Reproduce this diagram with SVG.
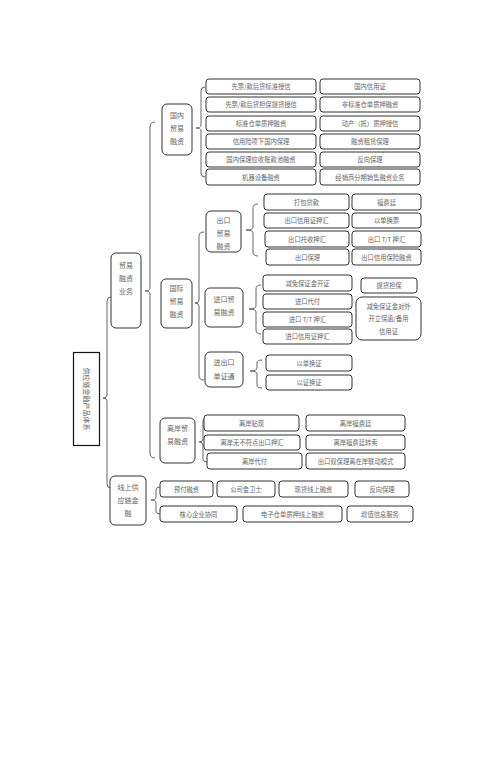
<svg xmlns="http://www.w3.org/2000/svg" width="502" height="767" viewBox="0 0 502 767">
<style>
.b{fill:#fff;stroke:#333;stroke-width:1}
.t{font-family:"Noto Sans CJK SC","Liberation Serif",serif;font-size:6.3px;fill:#666;text-anchor:middle;dominant-baseline:central}
.n{font-size:7px}
.br{fill:none;stroke:#666;stroke-width:1}
</style>
<rect width="502" height="767" fill="#fff"/>
<g id="connectors">
<path class="br" d="M111 297 Q107 297 107 301 L107 395 Q107 398 103 398 Q107 398 107 401 L107 484 Q107 488 111 488"/>
<path class="br" d="M155 122 Q150 122 150 127 L150 288 Q150 291 145 291 Q150 291 150 294 L150 453 Q150 458 155 458"/>
<path class="br" d="M205 87 Q201 87 201 91 L201 125 Q201 128 196 128 Q201 128 201 131 L201 173 Q201 177 205 177"/>
<path class="br" d="M204 232 Q199 232 199 236 L199 300 Q199 303 195 303 Q199 303 199 306 L199 376 Q199 380 204 380"/>
<path class="br" d="M258 204 Q253 204 253 208 L253 227 Q253 230 246 230 Q253 230 253 233 L253 252 Q253 256 258 256"/>
<path class="br" d="M261 285 Q256 285 256 289 L256 306 Q256 309 249 309 Q256 309 256 312 L256 330 Q256 334 261 334"/>
<path class="br" d="M262 360 Q257 360 257 363 L257 368 Q257 371 250 371 Q257 371 257 374 L257 385 Q257 388 262 388"/>
<path class="br" d="M207 418 Q203 418 203 421 L203 439 Q203 442 199 442 Q203 442 203 445 L203 459 Q203 462 207 462"/>
<path class="br" d="M160 487 Q156 487 156 490 L156 497 Q156 500 151 500 Q156 500 156 503 L156 511 Q156 514 160 514"/>
</g>
<g id="root"><rect x="73.5" y="352.5" width="26" height="93" fill="#fff" stroke="#111" stroke-width="1.2"/><text class="t n" transform="translate(87,399) rotate(90)">供应链金融产品体系</text></g>
<g id="maoyi"><rect class="b" x="111" y="253" width="30" height="75" rx="5"/><text class="t n" x="126" y="265">贸易</text><text class="t n" x="126" y="278">融资</text><text class="t n" x="126" y="291">业务</text></g>
<g id="xianshang"><rect class="b" x="110" y="476" width="36" height="49" rx="5"/><text class="t n" x="128" y="487">线上供</text><text class="t n" x="128" y="500">应链金</text><text class="t n" x="128" y="513">融</text></g>
<g id="guonei"><rect class="b" x="162" y="104" width="30" height="51" rx="5"/><text class="t n" x="177" y="115">国内</text><text class="t n" x="177" y="128">贸易</text><text class="t n" x="177" y="141">融资</text></g>
<g id="guoji"><rect class="b" x="161" y="279" width="31" height="49" rx="5"/><text class="t n" x="176.5" y="288">国际</text><text class="t n" x="176.5" y="301">贸易</text><text class="t n" x="176.5" y="314">融资</text></g>
<g id="lian"><rect class="b" x="160" y="418" width="35" height="45" rx="5"/><text class="t n" x="177.5" y="428">离岸贸</text><text class="t n" x="177.5" y="441">易融资</text></g>
<g id="chukou"><rect class="b" x="206" y="211" width="35" height="41" rx="5"/><text class="t n" x="223.5" y="220">出口</text><text class="t n" x="223.5" y="233">贸易</text><text class="t n" x="223.5" y="246">融资</text></g>
<g id="jinkou"><rect class="b" x="205" y="288" width="38" height="39" rx="5"/><text class="t n" x="224" y="299">进口贸</text><text class="t n" x="224" y="312">易融资</text></g>
<g id="danzheng"><rect class="b" x="205" y="352" width="38" height="35" rx="5"/><text class="t n" x="224" y="362">进出口</text><text class="t n" x="224" y="376">单证通</text></g>
<g id="gn1"><rect class="b" x="206" y="79" width="110" height="15" rx="3"/><text class="t" x="261" y="86.5">先票/款后货标准授信</text></g>
<g id="gn2"><rect class="b" x="206" y="97" width="110" height="15" rx="3"/><text class="t" x="261" y="104.5">先票/款后货担保提货授信</text></g>
<g id="gn3"><rect class="b" x="206" y="116" width="110" height="15" rx="3"/><text class="t" x="261" y="123.5">标准仓单质押融资</text></g>
<g id="gn4"><rect class="b" x="206" y="134" width="110" height="15" rx="3"/><text class="t" x="261" y="141.5">信用险项下国内保理</text></g>
<g id="gn5"><rect class="b" x="206" y="152" width="110" height="15" rx="3"/><text class="t" x="261" y="159.5">国内保理应收账款池融资</text></g>
<g id="gn6"><rect class="b" x="206" y="169" width="110" height="16" rx="3"/><text class="t" x="261" y="177">机器设备融资</text></g>
<g id="gn7"><rect class="b" x="320" y="79" width="100" height="15" rx="3"/><text class="t" x="370" y="86.5">国内信用证</text></g>
<g id="gn8"><rect class="b" x="320" y="97" width="100" height="15" rx="3"/><text class="t" x="370" y="104.5">非标准仓单质押融资</text></g>
<g id="gn9"><rect class="b" x="320" y="116" width="100" height="15" rx="3"/><text class="t" x="370" y="123.5">动产（抵）质押授信</text></g>
<g id="gn10"><rect class="b" x="320" y="134" width="100" height="15" rx="3"/><text class="t" x="370" y="141.5">融资租赁保理</text></g>
<g id="gn11"><rect class="b" x="320" y="152" width="100" height="15" rx="3"/><text class="t" x="370" y="159.5">反向保理</text></g>
<g id="gn12"><rect class="b" x="320" y="169" width="100" height="16" rx="3"/><text class="t" x="370" y="177">经销商分期销售融资业务</text></g>
<g id="ck1"><rect class="b" x="264" y="194" width="85" height="16" rx="3"/><text class="t" x="306.5" y="202">打包贷款</text></g>
<g id="ck2"><rect class="b" x="264" y="213" width="85" height="15" rx="3"/><text class="t" x="306.5" y="220.5">出口信用证押汇</text></g>
<g id="ck3"><rect class="b" x="265" y="231" width="84" height="16" rx="3"/><text class="t" x="307" y="239">出口托收押汇</text></g>
<g id="ck4"><rect class="b" x="266" y="249" width="83" height="16" rx="3"/><text class="t" x="307.5" y="257">出口保理</text></g>
<g id="ck5"><rect class="b" x="352" y="194" width="69" height="16" rx="3"/><text class="t" x="386.5" y="202">福费廷</text></g>
<g id="ck6"><rect class="b" x="352" y="213" width="69" height="15" rx="3"/><text class="t" x="386.5" y="220.5">以单换票</text></g>
<g id="ck7"><rect class="b" x="352" y="231" width="69" height="16" rx="3"/><text class="t" x="386.5" y="239">出口 T/T 押汇</text></g>
<g id="ck8"><rect class="b" x="352" y="249" width="69" height="16" rx="3"/><text class="t" x="386.5" y="257">出口信用保险融资</text></g>
<g id="jk1"><rect class="b" x="263" y="275" width="89" height="16" rx="3"/><text class="t" x="307.5" y="283">减免保证金开证</text></g>
<g id="jk2"><rect class="b" x="263" y="294" width="89" height="15" rx="3"/><text class="t" x="307.5" y="301.5">进口代付</text></g>
<g id="jk3"><rect class="b" x="263" y="312" width="89" height="15" rx="3"/><text class="t" x="307.5" y="319.5">进口 T/T 押汇</text></g>
<g id="jk4"><rect class="b" x="263" y="329" width="89" height="15" rx="3"/><text class="t" x="307.5" y="336.5">进口信用证押汇</text></g>
<g id="jk5"><rect class="b" x="361" y="278" width="56" height="15" rx="3"/><text class="t" x="389" y="285.5">提货担保</text></g>
<g id="jk6"><rect class="b" x="356" y="297" width="65" height="43" rx="6"/><text class="t" x="388.5" y="306">减免保证金对外</text><text class="t" x="388.5" y="318.5">开立保函/备用</text><text class="t" x="388.5" y="331">信用证</text></g>
<g id="dz1"><rect class="b" x="266" y="355" width="86" height="16" rx="3"/><text class="t" x="309" y="363">以单换证</text></g>
<g id="dz2"><rect class="b" x="266" y="375" width="86" height="15" rx="3"/><text class="t" x="309" y="382.5">以证换证</text></g>
<g id="la1"><rect class="b" x="204" y="415" width="95" height="16" rx="3"/><text class="t" x="251.5" y="423">离岸贴现</text></g>
<g id="la2"><rect class="b" x="204" y="435" width="96" height="15" rx="3"/><text class="t" x="252" y="442.5">离岸无不符点出口押汇</text></g>
<g id="la3"><rect class="b" x="207" y="453" width="95" height="16" rx="3"/><text class="t" x="254.5" y="461">离岸代付</text></g>
<g id="la4"><rect class="b" x="306" y="415" width="99" height="16" rx="3"/><text class="t" x="355.5" y="423">离岸福费廷</text></g>
<g id="la5"><rect class="b" x="306" y="435" width="99" height="15" rx="3"/><text class="t" x="355.5" y="442.5">离岸福费廷转卖</text></g>
<g id="la6"><rect class="b" x="306" y="453" width="99" height="16" rx="3"/><text class="t" x="355.5" y="461">出口双保理离在岸联动模式</text></g>
<g id="xs1"><rect class="b" x="160" y="481" width="53" height="16" rx="3"/><text class="t" x="186.5" y="489">预付融资</text></g>
<g id="xs2"><rect class="b" x="217" y="481" width="58" height="16" rx="3"/><text class="t" x="246" y="489">公司金卫士</text></g>
<g id="xs3"><rect class="b" x="279" y="481" width="69" height="16" rx="3"/><text class="t" x="313.5" y="489">现货线上融资</text></g>
<g id="xs4"><rect class="b" x="355" y="481" width="54" height="16" rx="3"/><text class="t" x="382" y="489">反向保理</text></g>
<g id="xs5"><rect class="b" x="160" y="506" width="77" height="16" rx="3"/><text class="t" x="198.5" y="514">核心企业协同</text></g>
<g id="xs6"><rect class="b" x="243" y="506" width="99" height="16" rx="3"/><text class="t" x="292.5" y="514">电子仓单质押线上融资</text></g>
<g id="xs7"><rect class="b" x="347" y="506" width="66" height="16" rx="3"/><text class="t" x="380" y="514">增值信息服务</text></g>
</svg>
